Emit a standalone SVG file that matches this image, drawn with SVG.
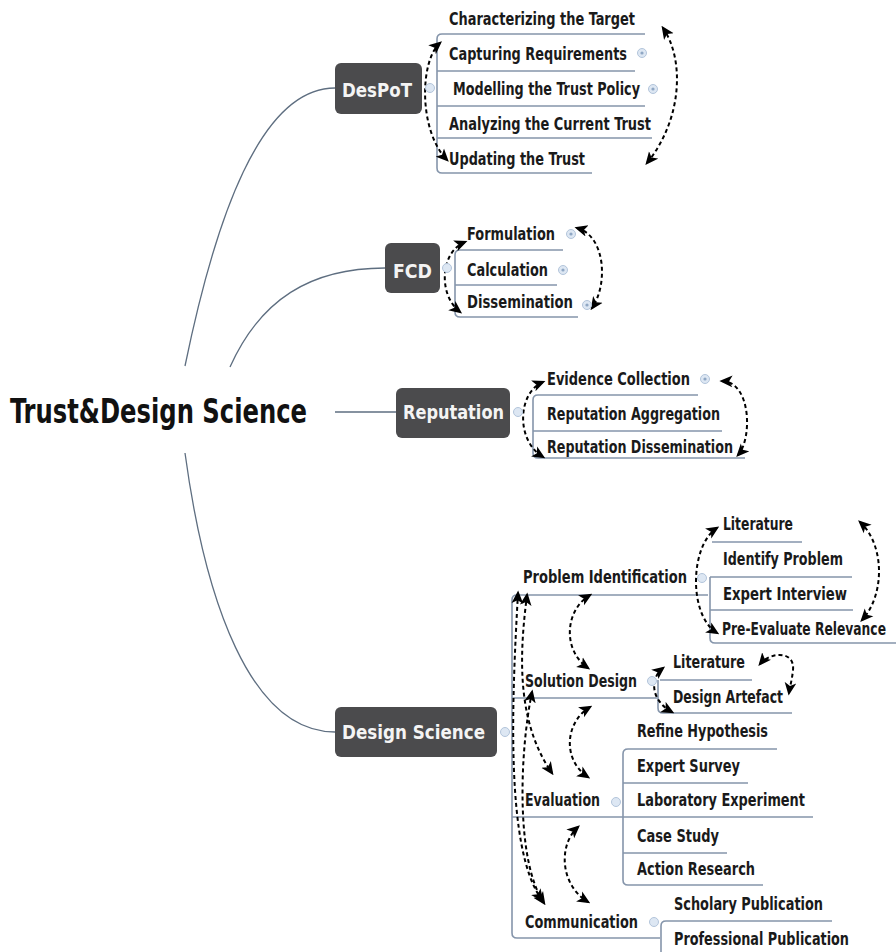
<svg xmlns="http://www.w3.org/2000/svg" width="896" height="952" viewBox="0 0 896 952">
  <style>
    .bg { fill: #ffffff; }
    .trunk { fill: none; stroke: #5e6e80; stroke-width: 1.3; }
    .bracket { fill: none; stroke: #8595ab; stroke-width: 1.6; }
    .node rect { fill: #4b4b4d; }
    .node-label { font-family: "DejaVu Sans Condensed", "DejaVu Sans", sans-serif; font-weight: bold; fill: #f4f4f4; font-size: 20px; }
    .root { font-family: "DejaVu Sans Condensed", "DejaVu Sans", sans-serif; font-weight: bold; fill: #111111; font-size: 34px; }
    .leaf { font-family: "DejaVu Sans Condensed", "DejaVu Sans", sans-serif; font-weight: bold; fill: #1a1a1a; font-size: 17.5px; }
    .toggle { fill: #dde7f3; stroke: #b3c5db; stroke-width: 1; }
    .dot { fill: #8fa7c4; }
    .flow { fill: none; stroke: #000000; stroke-width: 2; stroke-dasharray: 4 3; marker-start: url(#ah); marker-end: url(#ah); }
  </style>
  <defs>
    <marker id="ah" viewBox="0 0 10 10" refX="8" refY="5" markerWidth="13" markerHeight="13" markerUnits="userSpaceOnUse" orient="auto-start-reverse">
      <path d="M0,0.5 L10,5 L0,9.5 L2.5,5 z" fill="#000000"/>
    </marker>
  </defs>

  <rect class="bg" x="0" y="0" width="896" height="952"/>

  <!-- branches from the central topic -->
  <g id="connectors">
    <path class="trunk" d="M185 366 C215 220 260 88 335 88"/>
    <path class="trunk" d="M230 367 C260 300 310 268 385 268"/>
    <path class="trunk" d="M335 412 L396 412"/>
    <path class="trunk" d="M185 453 C205 600 250 732 335 732"/>

    <!-- DesPoT bracket -->
    <path class="bracket" d="M645 34 L442 34 Q437 34 437 39 L437 168 Q437 173 442 173 L592 173"/>
    <path class="bracket" d="M437 71 L635 71 M437 106 L645 106 M437 138 L652 138"/>
    <!-- FCD bracket -->
    <path class="bracket" d="M563 250 L460 250 Q455 250 455 255 L455 312 Q455 317 460 317 L578 317"/>
    <path class="bracket" d="M455 285 L557 285"/>
    <!-- Reputation bracket -->
    <path class="bracket" d="M698 395 L538 395 Q533 395 533 400 L533 453 Q533 458 538 458 L745 458"/>
    <path class="bracket" d="M533 431 L722 431"/>
    <!-- Design Science bracket -->
    <path class="bracket" d="M708 595 L517 595 Q512 595 512 600 L512 933 Q512 938 517 938 L660 938"/>
    <path class="bracket" d="M512 698 L657 698 M512 817 L813 817"/>
    <!-- Problem Identification bracket -->
    <path class="bracket" d="M712 542 L802 542"/>
    <path class="bracket" d="M710 577 L852 577 M710 610 L853 610"/>
    <path class="bracket" d="M710 577 L710 638 Q710 643 715 643 L896 643"/>
    <!-- Solution Design bracket -->
    <path class="bracket" d="M660 680 L752 680"/>
    <path class="bracket" d="M658 680 L658 708 Q658 713 663 713 L792 713"/>
    <!-- Evaluation bracket -->
    <path class="bracket" d="M777 749 L628 749 Q623 749 623 754 L623 880 Q623 885 628 885 L763 885"/>
    <path class="bracket" d="M623 783 L748 783 M623 853 L727 853"/>
    <!-- Communication bracket -->
    <path class="bracket" d="M832 921 L666 921 Q661 921 661 926 L661 952"/>

    <!-- dashed two-way flows -->
    <path class="flow" d="M440 43 C420 60 418 130 447 160"/>
    <path class="flow" d="M663 28 C685 60 682 120 647 163"/>
    <path class="flow" d="M465 242 C440 252 438 295 460 312"/>
    <path class="flow" d="M577 228 C606 236 608 285 592 308"/>
    <path class="flow" d="M543 382 C518 392 515 440 543 457"/>
    <path class="flow" d="M722 381 C752 382 752 440 738 455"/>
    <path class="flow" d="M717 528 C690 545 688 615 717 633"/>
    <path class="flow" d="M860 522 C885 545 885 595 862 620"/>
    <path class="flow" d="M663 668 C650 678 650 700 672 712"/>
    <path class="flow" d="M760 664 C770 652 795 650 793 670 C792 680 790 686 789 693"/>
    <path class="flow" d="M590 595 C565 610 562 650 588 668"/>
    <path class="flow" d="M590 707 C565 722 562 760 588 777"/>
    <path class="flow" d="M578 827 C558 845 560 885 588 902"/>
    <path class="flow" d="M518 593 C512 700 505 850 542 900"/>
    <path class="flow" d="M527 595 C520 650 515 720 552 773"/>
    <path class="flow" d="M532 692 C520 750 515 860 544 903"/>
  </g>

  <!-- central topic -->
  <g id="root">
    <text class="root" x="10" y="423" textLength="297" lengthAdjust="spacingAndGlyphs">Trust&amp;Design Science</text>
  </g>

  <!-- DesPoT -->
  <g id="despot" class="node">
    <rect x="335" y="63" width="87" height="51" rx="6"/>
    <text class="node-label" x="342" y="97" textLength="70" lengthAdjust="spacingAndGlyphs">DesPoT</text>
    <circle class="toggle" cx="430" cy="88" r="4.5"/>
  </g>
  <g id="despot-children">
    <text class="leaf" x="449" y="25" textLength="186" lengthAdjust="spacingAndGlyphs">Characterizing the Target</text>
    <text class="leaf" x="449" y="60" textLength="178" lengthAdjust="spacingAndGlyphs">Capturing Requirements</text>
    <circle class="toggle" cx="642" cy="53" r="4.5"/><circle class="dot" cx="642" cy="53" r="1.6"/>
    <text class="leaf" x="453" y="95" textLength="187" lengthAdjust="spacingAndGlyphs">Modelling the Trust Policy</text>
    <circle class="toggle" cx="653" cy="89" r="4.5"/><circle class="dot" cx="653" cy="89" r="1.6"/>
    <text class="leaf" x="449" y="130" textLength="202" lengthAdjust="spacingAndGlyphs">Analyzing the Current Trust</text>
    <text class="leaf" x="449" y="165" textLength="136" lengthAdjust="spacingAndGlyphs">Updating the Trust</text>
  </g>

  <!-- FCD -->
  <g id="fcd" class="node">
    <rect x="385" y="243" width="55" height="50" rx="6"/>
    <text class="node-label" x="393" y="278" textLength="39" lengthAdjust="spacingAndGlyphs">FCD</text>
    <circle class="toggle" cx="447" cy="268" r="4.5"/>
  </g>
  <g id="fcd-children">
    <text class="leaf" x="467" y="240" textLength="88" lengthAdjust="spacingAndGlyphs">Formulation</text>
    <circle class="toggle" cx="571" cy="234" r="4.5"/><circle class="dot" cx="571" cy="234" r="1.6"/>
    <text class="leaf" x="467" y="276" textLength="81" lengthAdjust="spacingAndGlyphs">Calculation</text>
    <circle class="toggle" cx="563" cy="270" r="4.5"/><circle class="dot" cx="563" cy="270" r="1.6"/>
    <text class="leaf" x="467" y="308" textLength="106" lengthAdjust="spacingAndGlyphs">Dissemination</text>
    <circle class="toggle" cx="587" cy="305" r="4.5"/><circle class="dot" cx="587" cy="305" r="1.6"/>
  </g>

  <!-- Reputation -->
  <g id="reputation" class="node">
    <rect x="396" y="388" width="114" height="50" rx="6"/>
    <text class="node-label" x="403" y="419" textLength="101" lengthAdjust="spacingAndGlyphs">Reputation</text>
    <circle class="toggle" cx="518" cy="412" r="4.5"/>
  </g>
  <g id="reputation-children">
    <text class="leaf" x="547" y="385" textLength="143" lengthAdjust="spacingAndGlyphs">Evidence Collection</text>
    <circle class="toggle" cx="705" cy="379" r="4.5"/><circle class="dot" cx="705" cy="379" r="1.6"/>
    <text class="leaf" x="547" y="420" textLength="173" lengthAdjust="spacingAndGlyphs">Reputation Aggregation</text>
    <text class="leaf" x="547" y="453" textLength="186" lengthAdjust="spacingAndGlyphs">Reputation Dissemination</text>
  </g>

  <!-- Design Science -->
  <g id="design-science" class="node">
    <rect x="335" y="707" width="162" height="50" rx="6"/>
    <text class="node-label" x="342" y="739" textLength="143" lengthAdjust="spacingAndGlyphs">Design Science</text>
    <circle class="toggle" cx="505" cy="732" r="4.5"/>
  </g>

  <g id="problem-identification">
    <text class="leaf" x="523" y="583" textLength="164" lengthAdjust="spacingAndGlyphs">Problem Identification</text>
    <circle class="toggle" cx="702" cy="578" r="4.5"/>
    <text class="leaf" x="723" y="530" textLength="70" lengthAdjust="spacingAndGlyphs">Literature</text>
    <text class="leaf" x="723" y="565" textLength="120" lengthAdjust="spacingAndGlyphs">Identify Problem</text>
    <text class="leaf" x="723" y="600" textLength="124" lengthAdjust="spacingAndGlyphs">Expert Interview</text>
    <text class="leaf" x="722" y="635" textLength="164" lengthAdjust="spacingAndGlyphs">Pre-Evaluate Relevance</text>
  </g>

  <g id="solution-design">
    <text class="leaf" x="525" y="687" textLength="112" lengthAdjust="spacingAndGlyphs">Solution Design</text>
    <circle class="toggle" cx="652" cy="681" r="4.5"/>
    <text class="leaf" x="673" y="668" textLength="72" lengthAdjust="spacingAndGlyphs">Literature</text>
    <text class="leaf" x="673" y="703" textLength="110" lengthAdjust="spacingAndGlyphs">Design Artefact</text>
  </g>

  <g id="evaluation">
    <text class="leaf" x="525" y="806" textLength="75" lengthAdjust="spacingAndGlyphs">Evaluation</text>
    <circle class="toggle" cx="616" cy="802" r="4.5"/>
    <text class="leaf" x="637" y="737" textLength="131" lengthAdjust="spacingAndGlyphs">Refine Hypothesis</text>
    <text class="leaf" x="637" y="772" textLength="103" lengthAdjust="spacingAndGlyphs">Expert Survey</text>
    <text class="leaf" x="637" y="806" textLength="168" lengthAdjust="spacingAndGlyphs">Laboratory Experiment</text>
    <text class="leaf" x="637" y="842" textLength="82" lengthAdjust="spacingAndGlyphs">Case Study</text>
    <text class="leaf" x="637" y="875" textLength="118" lengthAdjust="spacingAndGlyphs">Action Research</text>
  </g>

  <g id="communication">
    <text class="leaf" x="525" y="928" textLength="113" lengthAdjust="spacingAndGlyphs">Communication</text>
    <circle class="toggle" cx="654" cy="922" r="4.5"/>
    <text class="leaf" x="674" y="910" textLength="149" lengthAdjust="spacingAndGlyphs">Scholary Publication</text>
    <text class="leaf" x="674" y="945" textLength="175" lengthAdjust="spacingAndGlyphs">Professional Publication</text>
  </g>
</svg>
